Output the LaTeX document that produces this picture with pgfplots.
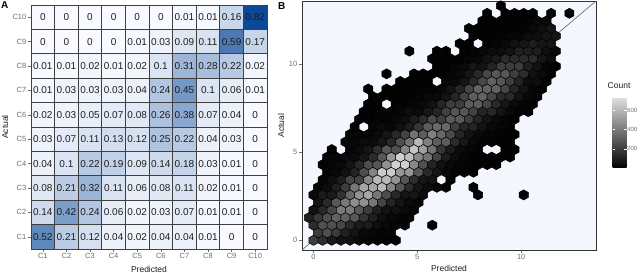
\documentclass[border=0pt]{standalone}
\usepackage{fontspec}
\setmainfont{Liberation Sans}
\usepackage{pgfplots}
\pgfplotsset{compat=1.18}
\usepackage{pgfplotstable}
\pgfplotsset{/pgf/number format/assume math mode=true}

\definecolor{tickgray}{RGB}{110,110,110}
\definecolor{txt}{RGB}{30,30,30}
\definecolor{bgB}{RGB}{245,247,255}
\definecolor{diagc}{RGB}{80,100,110}

\pgfdeclareplotmark{hexa}{%
 \pgfpathmoveto{\pgfqpoint{0pt}{5.05pt}}%
 \pgfpathlineto{\pgfqpoint{4.57pt}{2.52pt}}%
 \pgfpathlineto{\pgfqpoint{4.57pt}{-2.52pt}}%
 \pgfpathlineto{\pgfqpoint{0pt}{-5.05pt}}%
 \pgfpathlineto{\pgfqpoint{-4.57pt}{-2.52pt}}%
 \pgfpathlineto{\pgfqpoint{-4.57pt}{2.52pt}}%
 \pgfpathclose
 \pgfusepathqfillstroke}
\pgfdeclareplotmark{tile}{%
 \pgfpathrectangle{\pgfqpoint{-11.8pt}{-12.2pt}}{\pgfqpoint{23.6pt}{24.4pt}}%
 \pgfusepathqfillstroke}

% confusion matrix: x = Predicted (C1..C10), y = Actual (C1..C10)
\pgfplotstableread{
x y v
1 10 0
2 10 0
3 10 0
4 10 0
5 10 0
6 10 0
7 10 0.01
8 10 0.01
9 10 0.16
10 10 0.82
1 9 0
2 9 0
3 9 0
4 9 0
5 9 0.01
6 9 0.03
7 9 0.09
8 9 0.11
9 9 0.59
10 9 0.17
1 8 0.01
2 8 0.01
3 8 0.02
4 8 0.01
5 8 0.02
6 8 0.1
7 8 0.31
8 8 0.28
9 8 0.22
10 8 0.02
1 7 0.01
2 7 0.03
3 7 0.03
4 7 0.03
5 7 0.04
6 7 0.24
7 7 0.45
8 7 0.1
9 7 0.06
10 7 0.01
1 6 0.02
2 6 0.03
3 6 0.05
4 6 0.07
5 6 0.08
6 6 0.26
7 6 0.38
8 6 0.07
9 6 0.04
10 6 0
1 5 0.03
2 5 0.07
3 5 0.11
4 5 0.13
5 5 0.12
6 5 0.25
7 5 0.22
8 5 0.04
9 5 0.03
10 5 0
1 4 0.04
2 4 0.1
3 4 0.22
4 4 0.19
5 4 0.09
6 4 0.14
7 4 0.18
8 4 0.03
9 4 0.01
10 4 0
1 3 0.08
2 3 0.21
3 3 0.32
4 3 0.11
5 3 0.06
6 3 0.08
7 3 0.11
8 3 0.02
9 3 0.01
10 3 0
1 2 0.14
2 2 0.42
3 2 0.24
4 2 0.06
5 2 0.02
6 2 0.03
7 2 0.07
8 2 0.01
9 2 0.01
10 2 0
1 1 0.52
2 1 0.21
3 1 0.12
4 1 0.04
5 1 0.02
6 1 0.04
7 1 0.04
8 1 0.01
9 1 0
10 1 0
}\cmdata

% hexbin cells: centre x, centre y, count
\pgfplotstableread[row sep=\\]{
x y c\\
0 0 200\\ 0.44 0 144\\ 0.88 0 84\\ 1.32 0 57\\ 1.76 0 57\\ 2.2 0 35\\ 2.64 0 19\\ 3.08 0 14\\ 3.52 0 14\\ 3.96 0 8\\
0.22 0.43 200\\ 0.66 0.43 260\\ 1.1 0.43 187\\ 1.54 0.43 109\\ 1.98 0.43 70\\ 2.42 0.43 35\\ 2.86 0.43 24\\ 3.3 0.43 14\\ 3.74 0.43 16\\
0 0.86 144\\ 0.44 0.86 260\\ 0.88 0.86 260\\ 1.32 0.86 230\\ 1.76 0.86 134\\ 2.2 0.86 88\\ 2.64 0.86 88\\ 3.08 0.86 44\\ 3.52 0.86 28\\ 3.96 0.86 16\\ 4.4 0.86 19\\ 5.72 0.86 5\\
-0.22 1.29 109\\ 0.22 1.29 187\\ 0.66 1.29 260\\ 1.1 1.29 320\\ 1.54 1.29 320\\ 1.98 1.29 288\\ 2.42 1.29 168\\ 2.86 1.29 103\\ 3.3 1.29 52\\ 3.74 1.29 32\\ 4.18 1.29 19\\ 4.62 1.29 19\\
0 1.72 57\\ 0.44 1.72 134\\ 0.88 1.72 230\\ 1.32 1.72 400\\ 1.76 1.72 400\\ 2.2 1.72 288\\ 2.64 1.72 197\\ 3.08 1.72 103\\ 3.52 1.72 59\\ 3.96 1.72 59\\ 4.4 1.72 36\\ 4.84 1.72 21\\
0.22 2.15 70\\ 0.66 2.15 134\\ 1.1 2.15 288\\ 1.54 2.15 400\\ 1.98 2.15 470\\ 2.42 2.15 470\\ 2.86 2.15 389\\ 3.3 2.15 227\\ 3.74 2.15 119\\ 4.18 2.15 66\\ 4.62 2.15 36\\ 5.06 2.15 23\\
0 2.58 35\\ 0.44 2.58 88\\ 0.88 2.58 88\\ 1.32 2.58 168\\ 1.76 2.58 338\\ 2.2 2.58 470\\ 2.64 2.58 540\\ 3.08 2.58 389\\ 3.52 2.58 252\\ 3.96 2.58 132\\ 4.4 2.58 66\\ 4.84 2.58 73\\ 5.28 2.58 40\\ 7.92 2.58 6\\ 10.12 2.58 4\\
0.22 3.01 24\\ 0.66 3.01 44\\ 1.1 3.01 103\\ 1.54 3.01 197\\ 1.98 3.01 389\\ 2.42 3.01 540\\ 2.86 3.01 540\\ 3.3 3.01 600\\ 3.74 3.01 432\\ 4.18 3.01 277\\ 4.62 3.01 145\\ 5.06 3.01 75\\ 5.5 3.01 41\\ 5.94 3.01 24\\ 6.38 3.01 22\\ 7.7 3.01 5\\
0.44 3.44 24\\ 0.88 3.44 52\\ 1.32 3.44 103\\ 1.76 3.44 227\\ 2.2 3.44 227\\ 2.64 3.44 432\\ 3.08 3.44 600\\ 3.52 3.44 600\\ 3.96 3.44 475\\ 4.4 3.44 277\\ 4.84 3.44 150\\ 5.28 3.44 75\\ 5.72 3.44 68\\ 6.6 3.44 18\\
0.66 3.87 16\\ 1.1 3.87 28\\ 1.54 3.87 59\\ 1.98 3.87 119\\ 2.42 3.87 252\\ 2.86 3.87 432\\ 3.3 3.87 660\\ 3.74 3.87 660\\ 4.18 3.87 490\\ 4.62 3.87 490\\ 5.06 3.87 286\\ 5.5 3.87 136\\ 5.94 3.87 68\\ 6.38 3.87 31\\ 6.82 3.87 18\\ 7.26 3.87 12\\ 7.7 3.87 8\\
0.44 4.3 16\\ 0.88 4.3 19\\ 1.32 4.3 32\\ 1.76 4.3 66\\ 2.2 4.3 132\\ 2.64 4.3 252\\ 3.08 4.3 277\\ 3.52 4.3 475\\ 3.96 4.3 680\\ 4.4 4.3 680\\ 4.84 4.3 446\\ 5.28 4.3 260\\ 5.72 4.3 114\\ 6.16 4.3 57\\ 6.6 4.3 31\\ 7.04 4.3 25\\ 7.48 4.3 15\\ 7.92 4.3 12\\ 8.36 4.3 10\\ 8.8 4.3 8\\
0.66 4.73 19\\ 1.1 4.73 19\\ 1.54 4.73 36\\ 1.98 4.73 36\\ 2.42 4.73 73\\ 2.86 4.73 145\\ 3.3 4.73 286\\ 3.74 4.73 490\\ 4.18 4.73 680\\ 4.62 4.73 620\\ 5.06 4.73 446\\ 5.5 4.73 374\\ 5.94 4.73 218\\ 6.38 4.73 92\\ 6.82 4.73 46\\ 7.26 4.73 20\\ 7.7 4.73 12\\ 8.14 4.73 12\\ 8.58 4.73 10\\ 9.02 4.73 9\\ 9.46 4.73 7\\
0.88 5.16 12\\ 1.76 5.16 21\\ 2.2 5.16 40\\ 2.64 5.16 73\\ 3.08 5.16 150\\ 3.52 5.16 286\\ 3.96 5.16 260\\ 4.4 5.16 446\\ 4.84 5.16 640\\ 5.28 5.16 520\\ 5.72 5.16 374\\ 6.16 5.16 176\\ 6.6 5.16 92\\ 7.04 5.16 37\\ 7.48 5.16 20\\ 7.92 5.16 14\\ 9.24 5.16 8\\ 9.68 5.16 6\\
1.54 5.59 23\\ 1.98 5.59 23\\ 2.42 5.59 41\\ 2.86 5.59 41\\ 3.3 5.59 75\\ 3.74 5.59 136\\ 4.18 5.59 260\\ 4.62 5.59 374\\ 5.06 5.59 600\\ 5.5 5.59 420\\ 5.94 5.59 302\\ 6.38 5.59 302\\ 6.82 5.59 143\\ 7.26 5.59 75\\ 7.7 5.59 32\\ 8.14 5.59 17\\ 8.58 5.59 14\\ 9.02 5.59 12\\ 9.46 5.59 9\\
1.76 6.02 13\\ 2.2 6.02 24\\ 2.64 6.02 24\\ 3.08 6.02 37\\ 3.52 6.02 68\\ 3.96 6.02 136\\ 4.4 6.02 218\\ 4.84 6.02 374\\ 5.28 6.02 302\\ 5.72 6.02 420\\ 6.16 6.02 340\\ 6.6 6.02 245\\ 7.04 6.02 122\\ 7.48 6.02 64\\ 7.92 6.02 32\\ 8.36 6.02 17\\ 8.8 6.02 14\\ 9.24 6.02 11\\ 9.68 6.02 8\\
1.98 6.45 14\\ 2.86 6.45 22\\ 3.3 6.45 37\\ 3.74 6.45 31\\ 4.18 6.45 57\\ 4.62 6.45 92\\ 5.06 6.45 176\\ 5.5 6.45 302\\ 5.94 6.45 340\\ 6.38 6.45 340\\ 6.82 6.45 209\\ 7.26 6.45 122\\ 7.7 6.45 118\\ 8.14 6.45 62\\ 8.58 6.45 33\\ 9.02 6.45 18\\ 9.46 6.45 11\\
2.2 6.88 12\\ 2.64 6.88 12\\ 3.08 6.88 22\\ 3.52 6.88 18\\ 3.96 6.88 31\\ 4.4 6.88 46\\ 4.84 6.88 92\\ 5.28 6.88 143\\ 5.72 6.88 245\\ 6.16 6.88 209\\ 6.6 6.88 290\\ 7.04 6.88 290\\ 7.48 6.88 202\\ 7.92 6.88 118\\ 8.36 6.88 66\\ 8.8 6.88 33\\ 9.24 6.88 19\\ 9.68 6.88 12\\
2.42 7.31 12\\ 2.86 7.31 10\\ 3.3 7.31 18\\ 3.74 7.31 15\\ 4.18 7.31 25\\ 4.62 7.31 46\\ 5.06 7.31 37\\ 5.5 7.31 75\\ 5.94 7.31 122\\ 6.38 7.31 209\\ 6.82 7.31 280\\ 7.26 7.31 280\\ 7.7 7.31 216\\ 8.14 7.31 126\\ 8.58 7.31 126\\ 9.02 7.31 70\\ 9.46 7.31 35\\ 9.9 7.31 19\\ 10.34 7.31 12\\
2.64 7.74 10\\ 3.08 7.74 10\\ 3.96 7.74 15\\ 4.4 7.74 12\\ 4.84 7.74 20\\ 5.28 7.74 32\\ 5.72 7.74 64\\ 6.16 7.74 122\\ 6.6 7.74 202\\ 7.04 7.74 202\\ 7.48 7.74 300\\ 7.92 7.74 300\\ 8.36 7.74 230\\ 8.8 7.74 134\\ 9.24 7.74 70\\ 9.68 7.74 35\\ 10.12 7.74 19\\ 10.56 7.74 12\\
2.86 8.17 8\\ 3.3 8.17 8\\ 3.74 8.17 8\\ 4.18 8.17 12\\ 4.62 8.17 12\\ 5.06 8.17 17\\ 5.5 8.17 32\\ 5.94 8.17 31\\ 6.38 8.17 62\\ 6.82 8.17 126\\ 7.26 8.17 216\\ 7.7 8.17 300\\ 8.14 8.17 320\\ 8.58 8.17 230\\ 9.02 8.17 134\\ 9.46 8.17 134\\ 9.9 8.17 62\\ 10.34 8.17 31\\ 10.78 8.17 17\\
2.64 8.6 6\\ 3.52 8.6 7\\ 3.96 8.6 7\\ 4.4 8.6 6\\ 4.84 8.6 10\\ 5.28 8.6 10\\ 5.72 8.6 17\\ 6.16 8.6 31\\ 6.6 8.6 66\\ 7.04 8.6 126\\ 7.48 8.6 230\\ 7.92 8.6 320\\ 8.36 8.6 320\\ 8.8 8.6 320\\ 9.24 8.6 230\\ 9.68 8.6 118\\ 10.12 8.6 62\\ 10.56 8.6 22\\ 11.0 8.6 12\\
4.18 9.03 6\\ 4.62 9.03 6\\ 5.06 9.03 10\\ 5.5 9.03 10\\ 6.38 9.03 33\\ 6.82 9.03 33\\ 7.26 9.03 70\\ 7.7 9.03 134\\ 8.14 9.03 230\\ 8.58 9.03 320\\ 9.02 9.03 280\\ 9.46 9.03 202\\ 9.9 9.03 118\\ 10.34 9.03 44\\ 10.78 9.03 44\\ 11.22 9.03 14\\
3.52 9.46 5\\ 4.84 9.46 6\\ 5.28 9.46 10\\ 5.72 9.46 11\\ 6.16 9.46 11\\ 6.6 9.46 19\\ 7.04 9.46 35\\ 7.48 9.46 70\\ 7.92 9.46 134\\ 8.36 9.46 230\\ 8.8 9.46 280\\ 9.24 9.46 280\\ 9.68 9.46 200\\ 10.12 9.46 144\\ 10.56 9.46 59\\ 11.0 9.46 31\\ 11.44 9.46 10\\
5.94 9.89 10\\ 6.38 9.89 11\\ 6.82 9.89 19\\ 7.26 9.89 35\\ 7.7 9.89 70\\ 8.14 9.89 62\\ 8.58 9.89 118\\ 9.02 9.89 202\\ 9.46 9.89 200\\ 9.9 9.89 200\\ 10.34 9.89 101\\ 10.78 9.89 59\\ 11.22 9.89 22\\ 11.66 9.89 12\\
5.72 10.32 8\\ 6.16 10.32 11\\ 6.6 10.32 11\\ 7.04 10.32 11\\ 7.48 10.32 19\\ 7.92 10.32 31\\ 8.36 10.32 62\\ 8.8 10.32 84\\ 9.24 10.32 144\\ 9.68 10.32 140\\ 10.12 10.32 140\\ 10.56 10.32 140\\ 11.0 10.32 72\\ 11.44 10.32 42\\
4.62 10.75 5\\ 5.94 10.75 7\\ 6.38 10.75 7\\ 7.26 10.75 10\\ 7.7 10.75 17\\ 8.14 10.75 31\\ 8.58 10.75 44\\ 9.02 10.75 44\\ 9.46 10.75 59\\ 9.9 10.75 101\\ 10.34 10.75 100\\ 10.78 10.75 100\\ 11.22 10.75 50\\ 11.66 10.75 29\\
7.04 11.18 8\\ 7.48 11.18 8\\ 8.36 11.18 12\\ 8.8 11.18 22\\ 9.24 11.18 31\\ 9.68 11.18 59\\ 10.12 11.18 72\\ 10.56 11.18 100\\ 11.0 11.18 70\\ 11.44 11.18 70\\
7.7 11.61 8\\ 8.14 11.61 10\\ 8.58 11.61 12\\ 9.02 11.61 15\\ 9.46 11.61 22\\ 9.9 11.61 22\\ 10.34 11.61 42\\ 10.78 11.61 50\\ 11.22 11.61 70\\ 11.66 11.61 70\\
7.48 12.04 5\\ 7.92 12.04 6\\ 8.36 12.04 7\\ 8.8 12.04 8\\ 9.24 12.04 9\\ 9.68 12.04 10\\ 10.12 12.04 15\\ 10.56 12.04 29\\ 11.0 12.04 50\\ 11.44 12.04 70\\
8.14 12.47 5\\ 8.58 12.47 6\\ 9.02 12.47 7\\ 9.46 12.47 8\\ 9.9 12.47 10\\ 10.34 12.47 14\\ 10.78 12.47 29\\ 11.22 12.47 29\\
8.36 12.9 4\\ 9.24 12.9 5\\ 9.68 12.9 6\\ 10.12 12.9 7\\ 10.56 12.9 9\\ 11.44 12.9 18\\ 12.32 12.9 15\\
9.02 13.33 3\\
}\hexdata

\begin{document}
\begin{tikzpicture}
\useasboundingbox (0,0) rectangle (640pt,273pt);
\node[anchor=north west, inner sep=0pt, font=\bfseries\fontsize{10}{12}\selectfont] at (1pt,272pt) {A};
\node[anchor=north west, inner sep=0pt, font=\bfseries\fontsize{10}{12}\selectfont] at (278pt,271pt) {B};

\begin{axis}[
  at={(31pt,24pt)}, anchor=south west, scale only axis,
  width=236pt, height=244pt,
  xmin=0.5, xmax=10.5, ymin=0.5, ymax=10.5,
  xtick={1,2,3,4,5,6,7,8,9,10}, ytick={1,2,3,4,5,6,7,8,9,10},
  xticklabels={C1,C2,C3,C4,C5,C6,C7,C8,C9,C10},
  yticklabels={C1,C2,C3,C4,C5,C6,C7,C8,C9,C10},
  xtick pos=bottom, ytick pos=left, tick align=outside,
  major tick length=3pt,
  tick style={draw=tickgray, line width=0.5pt},
  tick label style={font=\fontsize{7.5}{9}\selectfont, text=tickgray},
  xticklabel style={inner sep=1.5pt},
  yticklabel style={inner sep=1.5pt},
  axis line style={draw=none},
  axis background/.style={fill=gray!15},
  colormap={blues}{rgb255=(248,250,255) rgb255=(10,72,152)},
  point meta min=0, point meta max=0.82,
  xlabel={Predicted}, ylabel={Actual},
  label style={font=\fontsize{8.5}{10}\selectfont, text=txt},
  xlabel style={at={(axis description cs:0.5,-0.082)}, anchor=center},
  ylabel style={at={(axis description cs:-0.11,0.5)}, anchor=center},
]
\addplot[scatter, only marks, mark=tile, line width=0.7pt, point meta=explicit,
  scatter/use mapped color={draw=black!75, fill=mapped color}]
  table[x=x, y=y, meta=v] \cmdata;
\addplot[draw=none, nodes near coords, point meta=explicit symbolic,
  nodes near coords align=center,
  every node near coord/.append style={anchor=center, inner sep=0pt,
    font=\fontsize{10}{12}\selectfont, text=txt}]
  table[x=x, y=y, meta=v] \cmdata;
\end{axis}

\begin{axis}[
  at={(302pt,23pt)}, anchor=south west, scale only axis,
  width=294pt, height=249pt,
  xmin=-0.55, xmax=13.6, ymin=-0.55, ymax=13.6,
  xtick={0,5,10}, ytick={0,5,10},
  xtick pos=bottom, ytick pos=left, tick align=outside,
  major tick length=3pt,
  tick style={draw=tickgray, line width=0.5pt},
  tick label style={font=\fontsize{7.5}{9}\selectfont, text=tickgray},
  xticklabel style={inner sep=1.5pt},
  yticklabel style={inner sep=1.5pt},
  axis line style={draw=black!80, line width=0.6pt},
  axis background/.style={fill=bgB},
  colormap={grays}{rgb255=(0,0,0) rgb255=(225,225,225)},
  point meta min=1, point meta max=740,
  xlabel={Predicted}, ylabel={Actual},
  label style={font=\fontsize{8.5}{10}\selectfont, text=txt},
  xlabel style={at={(axis description cs:0.5,-0.076)}, anchor=center},
  ylabel style={at={(axis description cs:-0.071,0.5)}, anchor=center},
  colorbar,
  colorbar style={
    at={(parent axis.north east)}, anchor=north west,
    xshift=8pt, yshift=-96pt,
    scale only axis, width=14pt, height=71pt,
    ytick={200,400,600}, yticklabel pos=right,
    axis line style={draw=none},
    major tick length=2.5pt, tick align=inside,
    tick style={draw=white, line width=0.5pt},
    yticklabel style={font=\fontsize{6}{7}\selectfont, text=tickgray, inner sep=0.5pt},
    title={Count},
    title style={at={(0,1)}, anchor=south west, xshift=-5pt, yshift=2pt,
      inner sep=0pt, font=\fontsize{8.5}{10}\selectfont, text=txt},
  },
]
\addplot[scatter, only marks, mark=hexa, line width=0.5pt, point meta=explicit,
  scatter/use mapped color={draw=black, fill=mapped color}]
  table[x=x, y=y, meta=c] \hexdata;
\addplot[diagc, line width=0.6pt] coordinates {(-0.55,-0.55) (13.6,13.6)};
\end{axis}
\end{tikzpicture}
\end{document}
